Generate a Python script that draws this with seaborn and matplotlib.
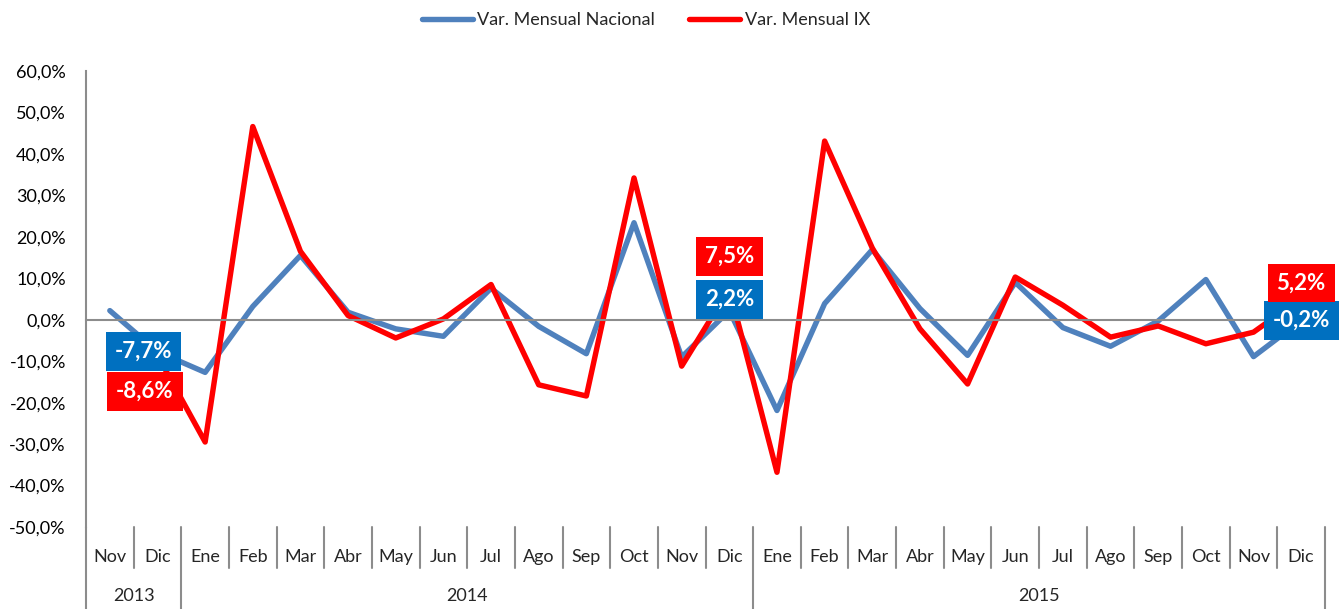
import numpy as np
import pandas as pd
import seaborn as sns
import matplotlib.pyplot as plt
from matplotlib.ticker import FuncFormatter

# datos (variación mensual, %)
meses = ["Nov", "Dic", "Ene", "Feb", "Mar", "Abr", "May", "Jun", "Jul", "Ago", "Sep", "Oct", "Nov", "Dic",
         "Ene", "Feb", "Mar", "Abr", "May", "Jun", "Jul", "Ago", "Sep", "Oct", "Nov", "Dic"]
anios = ["2013"] * 2 + ["2014"] * 12 + ["2015"] * 12
var_nacional = [2.2, -7.7, -12.7, 3.2, 15.5, 1.8, -2.2, -4.0, 7.6, -1.6, -8.2, 23.4, -9.0, 2.2,
                -21.9, 3.9, 16.9, 2.7, -8.6, 9.0, -1.9, -6.4, -0.3, 9.7, -8.9, -0.2]
var_ix = [-10.0, -8.6, -29.5, 46.6, 16.5, 1.0, -4.4, 0.2, 8.5, -15.7, -18.4, 34.2, -11.2, 7.5,
          -36.8, 43.1, 17.3, -2.2, -15.5, 10.3, 3.5, -4.2, -1.5, -5.8, -3.0, 5.2]

serie_nac = "Var. Mensual Nacional"
serie_ix = "Var. Mensual IX"
n = len(meses)

df = pd.DataFrame({
    "pos": list(range(n)) * 2,
    "valor": np.array(var_nacional + var_ix) / 100,
    "serie": [serie_nac] * n + [serie_ix] * n,
})

sns.set_style("white")
plt.rcParams["font.family"] = ["Lato", "DejaVu Sans"]

gris = "#8C8C8C"
azul = "#4F81BD"
rojo = "#FF0000"
azul_etiqueta = "#0070C0"

fig = plt.figure(figsize=(13.39, 6.09), dpi=100)
ax = fig.add_axes([86 / 1339, 1 - 527 / 609, (1325 - 86) / 1339, (527 - 71) / 609])

sns.lineplot(data=df, x="pos", y="valor", hue="serie",
             palette={serie_nac: azul, serie_ix: rojo},
             linewidth=3.9, sort=False, ax=ax,
             solid_joinstyle="round", solid_capstyle="round")

ax.set_xlim(-0.5, n - 0.5)
ax.set_ylim(-0.5, 0.6)
ax.set_yticks(np.arange(-0.5, 0.61, 0.1))


def fmt_pct(v, p):
    val = round(v * 100, 1)
    if abs(val) < 1e-9:
        val = 0.0
    return f"{val:.1f}%".replace(".", ",")


ax.yaxis.set_major_formatter(FuncFormatter(fmt_pct))
ax.set_xticks(np.arange(-0.5, n, 1))
ax.tick_params(axis="x", length=4.5, width=1.2, color=gris, labelbottom=False)
ax.tick_params(axis="y", length=4.5, width=1.2, color=gris, pad=10, labelsize=13, labelcolor="black")
ax.set_xlabel("")
ax.set_ylabel("")

for s in ["top", "right"]:
    ax.spines[s].set_visible(False)
ax.spines["left"].set_color(gris)
ax.spines["left"].set_linewidth(1.5)
ax.spines["bottom"].set_position(("data", 0))
ax.spines["bottom"].set_color(gris)
ax.spines["bottom"].set_linewidth(1.5)

# eje de categorías en dos niveles
tr = ax.get_xaxis_transform()
for i, m in enumerate(meses):
    ax.text(i, -0.066, m, transform=tr, ha="center", va="center", fontsize=13)
for b in range(1, n):
    if anios[b] == anios[b - 1]:
        ax.plot([b - 0.5, b - 0.5], [0, -0.09], transform=tr, color=gris, lw=1.5, clip_on=False)
cortes = [0] + [i for i in range(1, n) if anios[i] != anios[i - 1]] + [n]
for k in range(len(cortes) - 1):
    a, b = cortes[k], cortes[k + 1]
    ax.text((a + b - 1) / 2, -0.151, anios[a], transform=tr, ha="center", va="center", fontsize=13)
for c in cortes:
    ax.plot([c - 0.5, c - 0.5], [0, -0.18], transform=tr, color=gris, lw=1.5, clip_on=False)

# etiquetas de los meses de diciembre
etiquetas = [
    (1, var_nacional[1], azul_etiqueta, (-10, 0)),
    (1, var_ix[1], rojo, (-9, -26)),
    (13, var_nacional[13], azul_etiqueta, (0, 8)),
    (13, var_ix[13], rojo, (0, 23)),
    (25, var_nacional[25], azul_etiqueta, (0, 0)),
    (25, var_ix[25], rojo, (0, 11)),
]
for i, v, col, off in etiquetas:
    ax.annotate(f"{v:.1f}%".replace(".", ","), xy=(i, v / 100), xytext=off,
                textcoords="offset points", ha="center", va="center",
                fontsize=16, fontweight="bold", color="white", zorder=5,
                bbox=dict(boxstyle="square,pad=0.4", fc=col, ec="none"),
                annotation_clip=False)

handles, labels = ax.get_legend_handles_labels()
if ax.get_legend() is not None:
    ax.get_legend().remove()
leg = fig.legend(handles, labels, loc="center", bbox_to_anchor=(646 / 1339, 1 - 20 / 609),
                 ncol=2, frameon=False, fontsize=13, handlelength=2.8,
                 handletextpad=0.25, columnspacing=1.9)
for h in leg.get_lines():
    h.set_linewidth(3.9)
    h.set_solid_capstyle("round")

fig.savefig("out.png", dpi=100)
